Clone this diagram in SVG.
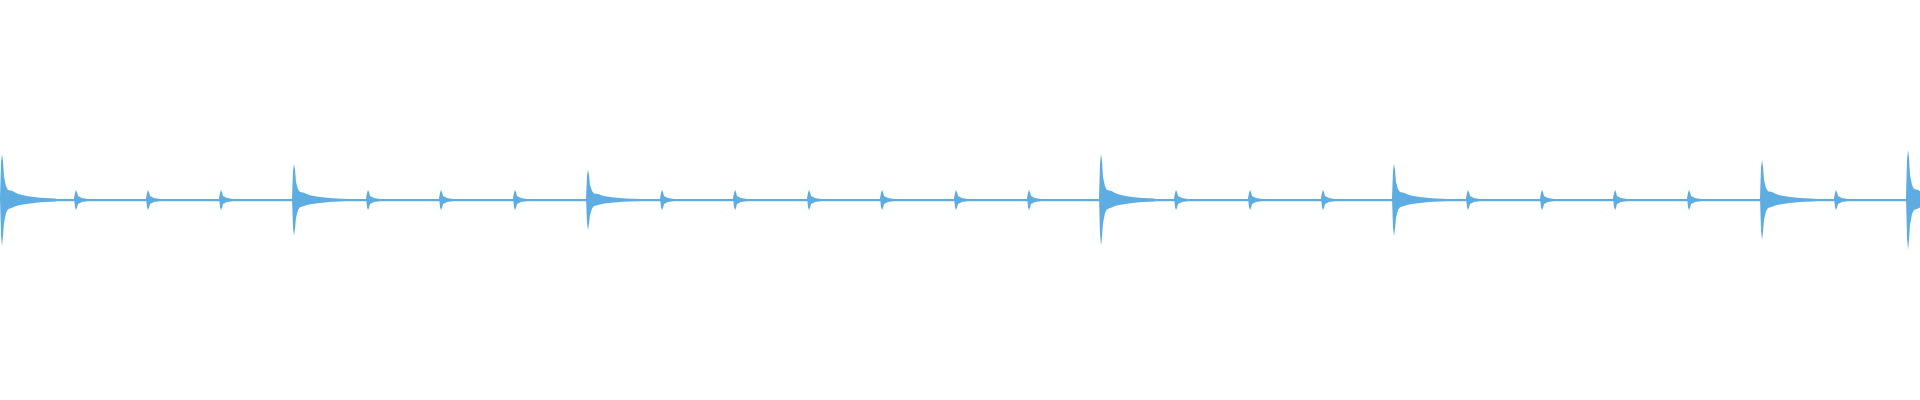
<svg xmlns="http://www.w3.org/2000/svg" width="1920" height="400" viewBox="0 0 1920 400">
<style>.w{fill:#5dade2}</style>
<defs>
<path id="big" d="M0,-0.05 L1,-0.8 L2,-1 L3,-0.85 L4,-0.5 L6,-0.3 L8,-0.22 L12,-0.2 L16,-0.15 L20,-0.12 L28,-0.08 L40,-0.05 L55,-0.03 L60,0 L55,0.03 L40,0.05 L28,0.08 L20,0.11 L16,0.13 L12,0.17 L8,0.2 L6,0.28 L4,0.5 L3,0.8 L2,1 L1,0.75 Z"/>
<path id="small" d="M0,-2 L1,-7 L2,-10 L3,-8 L4,-4 L8,-2 L14,-1 L18,0 L14,1 L8,2 L4,4 L3,8 L2,10 L1,7 Z"/>
</defs>
<rect width="1920" height="400" fill="#fff"/>
<rect x="0" y="199" width="1920" height="2.2" class="w"/>
<g class="w">
<use href="#big" transform="translate(0,200) scale(1,46)"/>
<use href="#big" transform="translate(292,200) scale(1,36)"/>
<use href="#big" transform="translate(586,200) scale(1,30)"/>
<use href="#big" transform="translate(1099,200) scale(1,46)"/>
<use href="#big" transform="translate(1392,200) scale(1,36)"/>
<use href="#big" transform="translate(1760,200) scale(1,40)"/>
<use href="#big" transform="translate(1906,200) scale(1,50)"/>
<use href="#small" x="74" y="200"/>
<use href="#small" x="146" y="200"/>
<use href="#small" x="219" y="200"/>
<use href="#small" x="366" y="200"/>
<use href="#small" x="439" y="200"/>
<use href="#small" x="513" y="200"/>
<use href="#small" x="660" y="200"/>
<use href="#small" x="733" y="200"/>
<use href="#small" x="807" y="200"/>
<use href="#small" x="880" y="200"/>
<use href="#small" x="954" y="200"/>
<use href="#small" x="1027" y="200"/>
<use href="#small" x="1174" y="200"/>
<use href="#small" x="1248" y="200"/>
<use href="#small" x="1321" y="200"/>
<use href="#small" x="1466" y="200"/>
<use href="#small" x="1540" y="200"/>
<use href="#small" x="1613" y="200"/>
<use href="#small" x="1687" y="200"/>
<use href="#small" x="1834" y="200"/>
</g>
</svg>
